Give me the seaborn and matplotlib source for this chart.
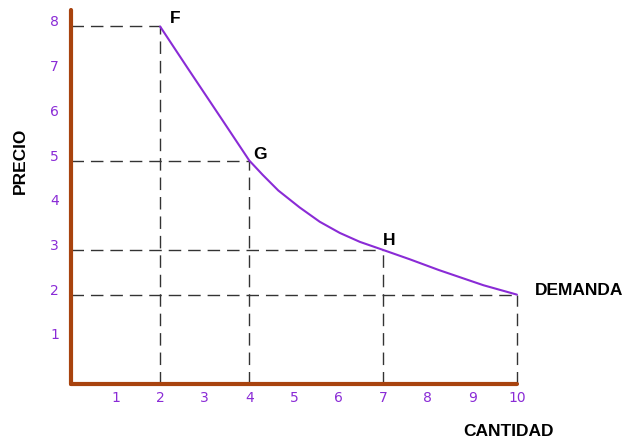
import pandas as pd
import matplotlib
matplotlib.use("Agg")
import matplotlib.pyplot as plt
import seaborn as sns

# curve
cantidad = [2, 2.63, 3.38, 4, 4.3, 4.65, 5.13, 5.58, 6.03, 6.48, 7, 7.6, 8.25, 9.25, 10]
precio = [8, 7.05, 5.93, 5, 4.68, 4.33, 3.95, 3.63, 3.38, 3.18, 3, 2.79, 2.55, 2.21, 2]

# labelled points
punto_nombre = ["F", "G", "H", "DEMANDA"]
punto_x = [2, 4, 7, 10]
punto_y = [8, 5, 3, 2]

x_ticks = [1, 2, 3, 4, 5, 6, 7, 8, 9, 10]
y_ticks = [1, 2, 3, 4, 5, 6, 7, 8]

sns.set_style("white")
plt.rcParams["font.family"] = ["DejaVu Sans"]

brown = "#A8430E"
purple = "#8A2BD6"

fig = plt.figure(figsize=(6.22, 4.38), dpi=100)
ax = fig.add_axes([0.114, 0.1233, 0.717, 0.854])

df = pd.DataFrame({"cantidad": cantidad, "precio": precio})
sns.lineplot(data=df, x="cantidad", y="precio", ax=ax, color=purple,
             linewidth=1.5, sort=False, estimator=None, clip_on=False, zorder=3)

# dashed guide lines
for px, py in zip(punto_x, punto_y):
    ax.plot([0, px], [py, py], color="#333333", lw=1, dashes=(9, 5), clip_on=False)
    ax.plot([px, px], [0, py], color="#333333", lw=1, dashes=(9, 5), clip_on=False)

ax.set_xlim(0, 10)
ax.set_ylim(0, 8.37)

for s in ["top", "right"]:
    ax.spines[s].set_visible(False)
for s in ["left", "bottom"]:
    ax.spines[s].set_color(brown)
    ax.spines[s].set_linewidth(3)
    ax.spines[s].set_capstyle("round")
    ax.spines[s].set_zorder(4)

ax.set_xticks(x_ticks)
ax.set_yticks(y_ticks)
ax.set_xticklabels([str(v) for v in x_ticks])
ax.set_yticklabels([str(v) for v in y_ticks], va="baseline")
ax.tick_params(axis="both", length=0, labelsize=10, labelcolor=purple)
ax.tick_params(axis="x", pad=5)
ax.tick_params(axis="y", pad=8.5)

ax.set_xlabel("")
ax.set_ylabel("")

bold = dict(family="Liberation Sans", fontweight="bold", fontsize=12.5, color="black")
offsets = [(11, 6), (8, 4), (4.5, 6.5), (13, 3)]
for name, px, py, off in zip(punto_nombre, punto_x, punto_y, offsets):
    ha = "left" if name == "DEMANDA" else "center"
    ax.annotate(name, (px, py), xytext=off, textcoords="offset points",
                ha=ha, va="center", **bold)

fig.text(509 / 622, 1 - 432 / 438, "CANTIDAD", ha="center", va="center", **bold)
fig.text(20 / 622, 1 - 161 / 438, "PRECIO", ha="center", va="center",
         rotation=90, **bold)

fig.savefig("out.png", dpi=100, facecolor="white")
